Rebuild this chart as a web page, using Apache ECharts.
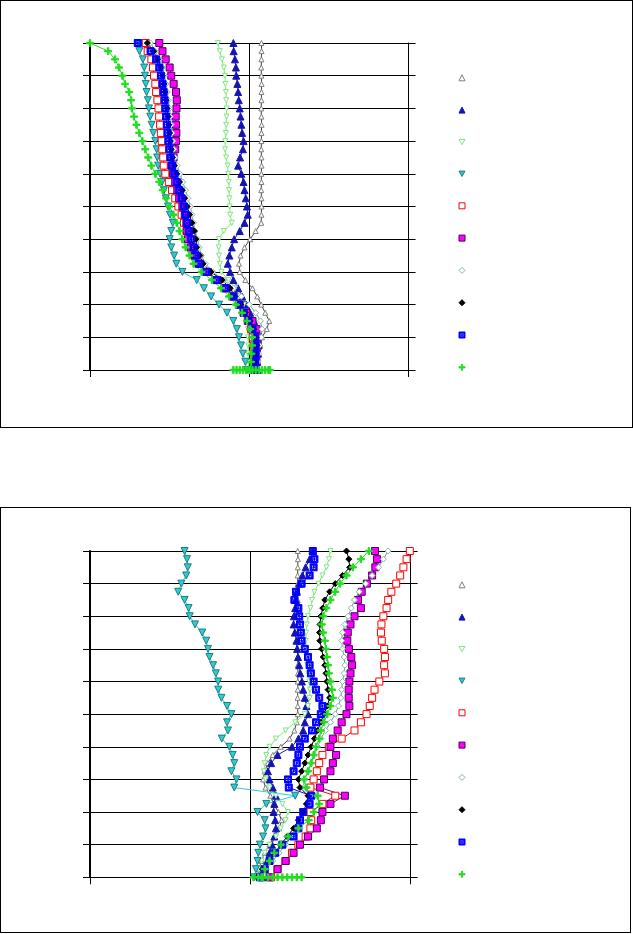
<!DOCTYPE html>
<html>
<head>
<meta charset="utf-8">
<script src="https://cdn.jsdelivr.net/npm/echarts@6/dist/echarts.min.js"></script>
<style>
html,body{margin:0;padding:0;background:#fff;}
#c1{position:absolute;left:0;top:0;width:631px;height:426px;border:1px solid #000;}
#c2{position:absolute;left:0;top:507px;width:629px;height:424px;border:1px solid #000;}
</style>
</head>
<body>
<div id="c1"></div>
<div id="c2"></div>
<script>
// depth levels (top to bottom)
const depth = [10,9.75,9.5,9.25,9,8.75,8.5,8.25,8,7.75,7.5,7.25,7,6.75,6.5,6.25,6,5.75,5.5,5.25,5,4.75,4.5,4.25,4,3.75,3.5,3.25,3,2.75,2.5,2.25,2,1.75,1.5,1.25,1,0.75,0.5,0.25,0];
const seriesNames = ['S1','S2','S3','S4','S5','S6','S7','S8','S9','S10'];

// ---- chart 1 values ----
const a1 = [0.076,0.077,0.076,0.075,0.076,0.077,0.076,0.076,0.075,0.076,0.077,0.076,0.076,0.075,0.076,0.077,0.076,0.076,0.075,0.076,0.077,0.076,0.075,0.04,0.005,-0.03,-0.055,-0.065,-0.06,-0.025,0.02,0.05,0.075,0.1,0.125,0.11,0.08,0.07,0.06,0.05,0.045];
const a2 = [-0.1,-0.098,-0.09,-0.084,-0.082,-0.075,-0.07,-0.066,-0.06,-0.055,-0.05,-0.045,-0.036,-0.04,-0.058,-0.07,-0.05,-0.036,-0.03,-0.022,-0.015,-0.01,-0.03,-0.06,-0.095,-0.11,-0.125,-0.135,-0.12,-0.1,-0.07,-0.045,-0.02,0.005,0.03,0.045,0.055,0.058,0.055,0.05,0.05];
const a3 = [-0.197,-0.185,-0.172,-0.16,-0.153,-0.15,-0.147,-0.145,-0.142,-0.143,-0.145,-0.147,-0.15,-0.152,-0.145,-0.136,-0.132,-0.129,-0.127,-0.125,-0.123,-0.12,-0.11,-0.16,-0.19,-0.192,-0.19,-0.185,-0.175,-0.13,-0.09,-0.06,-0.035,-0.02,-0.012,-0.008,-0.008,-0.006,-0.008,-0.006,-0.005];
const a4 = [-0.695,-0.69,-0.668,-0.66,-0.655,-0.65,-0.645,-0.637,-0.63,-0.622,-0.613,-0.603,-0.59,-0.582,-0.578,-0.572,-0.56,-0.548,-0.536,-0.524,-0.51,-0.498,-0.48,-0.49,-0.5,-0.49,-0.472,-0.458,-0.42,-0.33,-0.285,-0.24,-0.19,-0.14,-0.1,-0.078,-0.065,-0.052,-0.04,-0.025,-0.015];
const a5 = [-0.65,-0.638,-0.615,-0.605,-0.598,-0.59,-0.585,-0.577,-0.57,-0.566,-0.56,-0.555,-0.55,-0.546,-0.54,-0.537,-0.527,-0.505,-0.485,-0.465,-0.445,-0.425,-0.41,-0.395,-0.375,-0.36,-0.345,-0.32,-0.27,-0.2,-0.15,-0.105,-0.065,-0.035,-0.01,0.01,0.022,0.028,0.03,0.03,0.028];
const a6 = [-0.565,-0.545,-0.525,-0.5,-0.49,-0.475,-0.46,-0.455,-0.457,-0.462,-0.46,-0.458,-0.46,-0.465,-0.475,-0.488,-0.478,-0.465,-0.452,-0.44,-0.42,-0.405,-0.395,-0.39,-0.385,-0.365,-0.34,-0.31,-0.26,-0.2,-0.145,-0.1,-0.06,-0.02,0.02,0.045,0.055,0.052,0.048,0.045,0.043];
const a7 = [-0.62,-0.59,-0.565,-0.545,-0.532,-0.522,-0.515,-0.508,-0.5,-0.495,-0.49,-0.485,-0.48,-0.474,-0.466,-0.452,-0.435,-0.418,-0.4,-0.385,-0.37,-0.36,-0.35,-0.34,-0.325,-0.315,-0.3,-0.275,-0.23,-0.16,-0.1,-0.05,0.0,0.04,0.07,0.08,0.075,0.065,0.06,0.055,0.05];
const a8 = [-0.64,-0.6,-0.575,-0.555,-0.545,-0.535,-0.528,-0.522,-0.516,-0.51,-0.505,-0.5,-0.495,-0.49,-0.482,-0.47,-0.455,-0.438,-0.42,-0.405,-0.39,-0.375,-0.36,-0.345,-0.335,-0.33,-0.31,-0.29,-0.24,-0.17,-0.12,-0.09,-0.055,-0.025,0.005,0.03,0.045,0.048,0.045,0.04,0.038];
const a9 = [-0.7,-0.62,-0.585,-0.565,-0.555,-0.545,-0.538,-0.532,-0.527,-0.522,-0.518,-0.514,-0.508,-0.502,-0.495,-0.485,-0.47,-0.455,-0.44,-0.425,-0.41,-0.4,-0.39,-0.378,-0.365,-0.35,-0.335,-0.315,-0.27,-0.205,-0.15,-0.1,-0.065,-0.035,-0.005,0.02,0.035,0.04,0.04,0.038,0.035];
const a10 = [-1.0,-0.886,-0.843,-0.818,-0.797,-0.78,-0.754,-0.742,-0.737,-0.724,-0.709,-0.691,-0.671,-0.653,-0.635,-0.615,-0.59,-0.565,-0.544,-0.522,-0.501,-0.476,-0.456,-0.438,-0.42,-0.4,-0.375,-0.35,-0.3,-0.235,-0.177,-0.127,-0.084,-0.046,-0.015,0.005,0.018,0.018,0.013,0.01,0.005];
const a10Bottom = [-0.1,-0.08,-0.06,-0.04,-0.02,0.0,0.02,0.04,0.06,0.08,0.1,0.12,0.13];

// ---- chart 2 values ----
const b1 = [0.296,0.297,0.296,0.295,0.296,0.297,0.296,0.296,0.295,0.296,0.297,0.296,0.296,0.295,0.296,0.297,0.296,0.296,0.295,0.296,0.296,0.29,0.275,0.245,0.19,0.14,0.11,0.09,0.08,0.095,0.125,0.145,0.175,0.195,0.18,0.15,0.12,0.09,0.07,0.055,0.05];
const b2 = [0.39,0.37,0.345,0.325,0.305,0.29,0.285,0.28,0.272,0.27,0.278,0.288,0.292,0.298,0.305,0.312,0.322,0.33,0.34,0.35,0.36,0.34,0.33,0.3,0.26,0.17,0.13,0.11,0.12,0.14,0.16,0.15,0.145,0.155,0.16,0.15,0.135,0.12,0.105,0.09,0.075];
const b3 = [0.5,0.49,0.475,0.45,0.425,0.4,0.385,0.375,0.36,0.352,0.348,0.346,0.348,0.35,0.356,0.362,0.368,0.372,0.37,0.36,0.34,0.28,0.22,0.16,0.12,0.1,0.09,0.085,0.095,0.12,0.16,0.2,0.235,0.22,0.19,0.16,0.12,0.09,0.07,0.05,0.035];
const b4 = [-0.41,-0.395,-0.39,-0.4,-0.43,-0.45,-0.41,-0.385,-0.378,-0.345,-0.3,-0.275,-0.264,-0.255,-0.232,-0.215,-0.201,-0.2,-0.18,-0.145,-0.118,-0.145,-0.139,-0.178,-0.13,-0.11,-0.1,-0.118,-0.086,-0.1,0.28,0.1,0.045,0.09,0.095,0.08,0.06,0.05,0.045,0.035,0.025];
const b5 = [0.995,0.975,0.955,0.935,0.91,0.88,0.86,0.85,0.83,0.818,0.815,0.82,0.835,0.84,0.835,0.84,0.805,0.775,0.76,0.745,0.725,0.69,0.65,0.57,0.49,0.45,0.43,0.415,0.395,0.375,0.53,0.45,0.375,0.38,0.375,0.345,0.3,0.26,0.22,0.17,0.13];
const b6 = [0.778,0.79,0.78,0.76,0.727,0.695,0.672,0.69,0.65,0.625,0.608,0.605,0.615,0.63,0.635,0.625,0.618,0.614,0.614,0.618,0.6,0.57,0.545,0.515,0.5,0.535,0.515,0.5,0.46,0.435,0.59,0.5,0.45,0.44,0.415,0.36,0.31,0.27,0.22,0.17,0.12];
const b7 = [0.86,0.83,0.8,0.76,0.72,0.68,0.65,0.63,0.61,0.59,0.575,0.57,0.575,0.585,0.59,0.585,0.575,0.57,0.565,0.55,0.53,0.5,0.47,0.44,0.42,0.4,0.38,0.36,0.34,0.33,0.4,0.36,0.34,0.32,0.3,0.26,0.22,0.18,0.14,0.1,0.06];
const b8 = [0.6,0.615,0.62,0.575,0.53,0.495,0.465,0.452,0.44,0.435,0.432,0.434,0.445,0.455,0.465,0.472,0.478,0.485,0.495,0.48,0.46,0.44,0.42,0.4,0.38,0.36,0.34,0.32,0.3,0.31,0.36,0.35,0.33,0.3,0.27,0.23,0.19,0.15,0.11,0.075,0.045];
const b9 = [0.39,0.4,0.395,0.37,0.32,0.285,0.275,0.3,0.305,0.31,0.315,0.32,0.34,0.36,0.37,0.378,0.395,0.41,0.43,0.45,0.44,0.41,0.385,0.34,0.31,0.3,0.29,0.27,0.235,0.24,0.38,0.37,0.33,0.31,0.3,0.27,0.2,0.155,0.12,0.09,0.06];
const b10 = [0.74,0.69,0.64,0.6,0.56,0.53,0.5,0.475,0.455,0.445,0.455,0.465,0.472,0.478,0.485,0.49,0.5,0.51,0.515,0.5,0.48,0.46,0.44,0.43,0.41,0.395,0.38,0.36,0.335,0.35,0.42,0.43,0.395,0.365,0.3,0.235,0.19,0.15,0.12,0.09,0.07];
const b10Bottom = [0.02,0.05,0.08,0.11,0.14,0.17,0.2,0.23,0.26,0.29,0.32];

const DOWN = 'path://M0,0L10,0L5,9Z';
const PLUS = 'path://M4,0H6V4H10V6H6V10H4V6H0V4H4Z';
const DOTSQ = 'path://M0,0H10V10H0Z M2,2V8H8V2Z M4,4H6V6H4Z';
const styles = [
  {symbol:'triangle', fill:'#ffffff', border:'#808080', line:'#404040', size:5},
  {symbol:'triangle', fill:'#1414B4', border:'#1414B4', line:'#1414B4', size:7},
  {symbol:DOWN, fill:'#ffffff', border:'#7FE87F', line:'#7FE87F', size:5},
  {symbol:DOWN, fill:'#33CCCC', border:'#1C7C84', line:'#33CCCC', size:7},
  {symbol:'rect', fill:'#ffffff', border:'#FF0000', line:'#FF0000', size:7},
  {symbol:'rect', fill:'#FF00FF', border:'#4B0060', line:'#800080', size:7},
  {symbol:'diamond', fill:'#ffffff', border:'#8AB0B0', line:'#6E9E9E', size:6},
  {symbol:'diamond', fill:'#000000', border:'#000000', line:'#000000', size:6},
  {symbol:DOTSQ, fill:'#0000FF', border:'#0000FF', line:'#0000FF', size:7},
  {symbol:PLUS, fill:'#22DD22', border:'#22DD22', line:'#22DD22', size:7}
];

function buildOption(cols, bottomSpread, grid){
  const series = cols.map((xs, k) => {
    const st = styles[k];
    const data = depth.map((y, i) => [xs[i], y]);
    if (k === 9) bottomSpread.forEach(x => data.push([x, 0]));
    return {
      name: seriesNames[k], type:'line', data,
      symbol: st.symbol, symbolSize: st.size, showSymbol:true,
      lineStyle:{color:st.line, width:1},
      itemStyle:{color:st.fill, borderColor:st.border, borderWidth:1},
      emphasis:{disabled:true}, z: 3
    };
  });
  return {
    animation:false,
    grid: grid,
    xAxis:{type:'value', min:-1, max:1, interval:1,
      axisLine:{show:true, onZero:false, lineStyle:{color:'#000', width:1}},
      axisTick:{show:true, inside:false, length:7, lineStyle:{color:'#000'}},
      axisLabel:{show:false},
      splitLine:{show:true, lineStyle:{color:'#000', width:1}}},
    yAxis:[
      {type:'value', min:0, max:10, interval:1, position:'left',
        axisLine:{show:true, onZero:false, lineStyle:{color:'#000', width:2}},
        axisTick:{show:true, inside:false, length:7, lineStyle:{color:'#000'}},
        axisLabel:{show:false},
        splitLine:{show:true, lineStyle:{color:'#000', width:1}}},
      {type:'value', min:0, max:10, interval:1, position:'right',
        axisLine:{show:true, onZero:false, lineStyle:{color:'#000', width:1}},
        axisTick:{show:true, inside:false, length:7, lineStyle:{color:'#000'}},
        axisLabel:{show:false},
        splitLine:{show:false}}
    ],
    legend:{
      orient:'vertical', left:457.5, top:73.3, padding:0,
      itemWidth:6, itemHeight:6, itemGap:25.3,
      selectedMode:false,
      formatter: () => '',
      textStyle:{fontSize:1, lineHeight:1},
      data: seriesNames.map((n, k) => ({
        name:n, icon:styles[k].symbol,
        itemStyle:{color:styles[k].fill, borderColor:styles[k].border, borderWidth:1}
      }))
    },
    series
  };
}

const chart1 = echarts.init(document.getElementById('c1'), null, {renderer:'canvas'});
chart1.setOption(buildOption([a1,a2,a3,a4,a5,a6,a7,a8,a9,a10], a10Bottom,
  {left:89, top:42, width:318.6, height:327}));
const chart2 = echarts.init(document.getElementById('c2'), null, {renderer:'canvas'});
chart2.setOption(buildOption([b1,b2,b3,b4,b5,b6,b7,b8,b9,b10], b10Bottom,
  {left:89, top:43, width:320.6, height:326.3}));
</script>
</body>
</html>
